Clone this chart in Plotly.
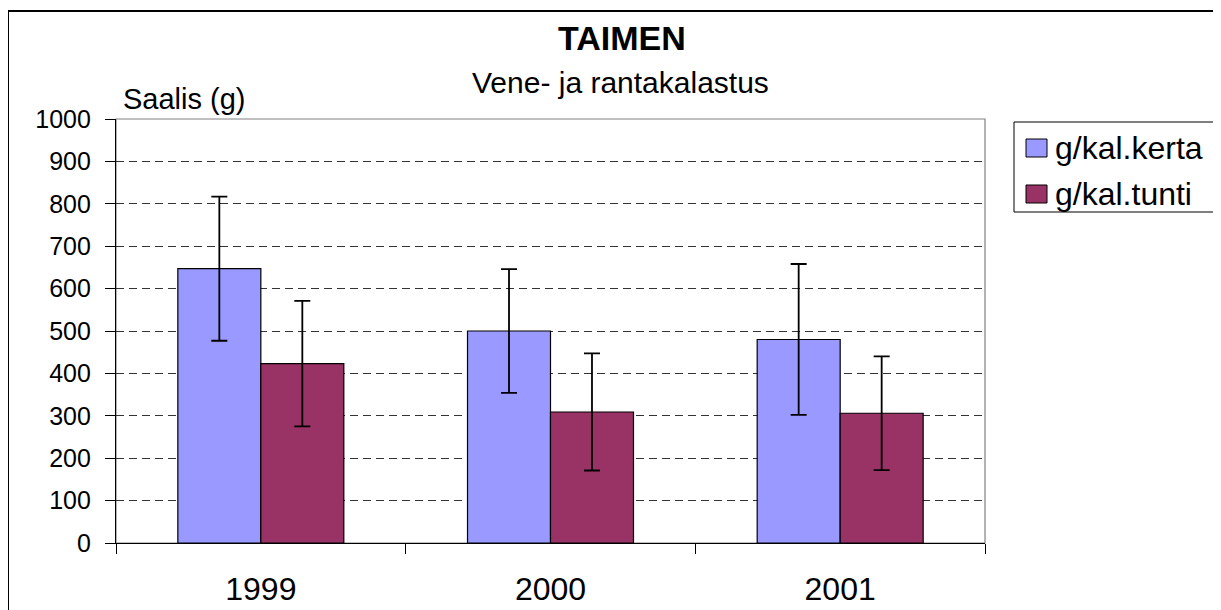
import plotly.graph_objects as go

years = ["1999", "2000", "2001"]
kerta = [647, 500, 480]
kerta_err = [170, 146, 178]
tunti = [423, 309, 306]
tunti_err = [148, 138, 134]
y_ticks = [0, 100, 200, 300, 400, 500, 600, 700, 800, 900, 1000]

FONT = "Liberation Sans, Arial, sans-serif"
OFF = 8  # page body margin
W, H = 1221 - OFF, 610 - OFF
# plot area in screen pixels: x 116..985, y 119..543
L, T = 116 - OFF, 119 - OFF
R, B = W - (985 - OFF), H - (543 - OFF)
pw, ph = W - L - R, H - T - B


# screen pixel -> paper coords (for frame, legend, labels)
def px(x):
    return (x - OFF - L) / pw


def py(y):
    return (H - B - (y - OFF)) / ph


fig = go.Figure()
fig.add_trace(go.Bar(
    x=years, y=kerta, name="g/kal.kerta",
    marker=dict(color="#9999FF", line=dict(color="black", width=1.2)),
    error_y=dict(type="data", array=kerta_err, color="black", thickness=1.8, width=8),
))
fig.add_trace(go.Bar(
    x=years, y=tunti, name="g/kal.tunti",
    marker=dict(color="#993366", line=dict(color="black", width=1.2)),
    error_y=dict(type="data", array=tunti_err, color="black", thickness=1.8, width=8),
))

fig.update_layout(
    width=W, height=H,
    margin=dict(l=L, r=R, t=T, b=B, autoexpand=False),
    paper_bgcolor="white", plot_bgcolor="white",
    barmode="group", bargap=0.427, bargroupgap=0,
    showlegend=False,
    font=dict(family=FONT, color="black"),
)
fig.update_xaxes(
    type="category", showline=True, linecolor="black", linewidth=1.2,
    ticks="outside", tickson="boundaries", ticklen=10, tickcolor="black",
    tickfont=dict(size=32), ticklabelstandoff=17, showgrid=False,
)
fig.update_yaxes(
    range=[0, 1000], tickvals=y_ticks, showline=True, linecolor="black", linewidth=1.2,
    ticks="outside", ticklen=10, tickcolor="black", tickfont=dict(size=25),
    ticklabelstandoff=9,
    showgrid=True, gridcolor="#333333", gridwidth=1, griddash="8px,5px",
    zeroline=False,
)

shapes = [
    # plot area border
    dict(type="rect", xref="paper", yref="paper", x0=0, x1=1, y0=0, y1=1,
         line=dict(color="#808080", width=1.2), layer="below"),
    # outer chart frame
    dict(type="rect", xref="paper", yref="paper", x0=px(8), x1=px(1240), y0=py(640), y1=py(11),
         line=dict(color="black", width=2)),
    # legend box
    dict(type="rect", xref="paper", yref="paper", x0=px(1014), x1=px(1218), y0=py(212), y1=py(122),
         line=dict(color="black", width=1)),
]
annotations = [
    dict(text="<b>TAIMEN</b>", x=px(622), y=py(38), font=dict(size=34)),
    dict(text="Vene- ja rantakalastus", x=px(620), y=py(82), font=dict(size=30)),
    dict(text="Saalis (g)", x=px(121), y=py(99), xanchor="left", font=dict(size=29)),
]
for i, (name, col) in enumerate([("g/kal.kerta", "#9999FF"), ("g/kal.tunti", "#993366")]):
    cy = 148 + i * 46
    shapes.append(dict(type="rect", xref="paper", yref="paper",
                       x0=px(1026), x1=px(1047), y0=py(cy + 9), y1=py(cy - 9),
                       fillcolor=col, line=dict(color="black", width=1)))
    annotations.append(dict(text=name, x=px(1053), y=py(cy), xanchor="left", font=dict(size=32)))
for a in annotations:
    a.update(xref="paper", yref="paper", showarrow=False, yanchor="middle")
    a.setdefault("xanchor", "center")

fig.update_layout(shapes=shapes, annotations=annotations)
fig.write_html("out.html")
